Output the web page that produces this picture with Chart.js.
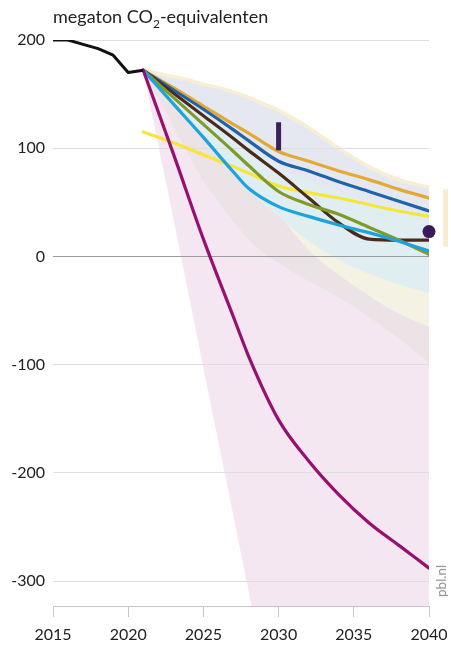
<!DOCTYPE html>
<html>
<head>
<meta charset="utf-8">
<script src="https://cdn.jsdelivr.net/npm/chart.js@4.4.1/dist/chart.umd.min.js"></script>
<style>
  html, body { margin: 0; padding: 0; background: #fff; }
  #wrap { position: relative; width: 451px; height: 647px; overflow: hidden; }
  canvas { position: absolute; left: 0; top: 0; }
  #title { position: absolute; left: 53px; top: 7px; font: 18px Lato, sans-serif; color: #222; line-height: 1; white-space: nowrap; }
  #title sub { font-size: 12px; vertical-align: -5px; line-height: 0; }
  #src { position: absolute; left: 441px; top: 581px; transform: translate(-50%, -50%) rotate(-90deg); font: 13.5px Lato, sans-serif; color: #8e8e8e; white-space: nowrap; }
</style>
</head>
<body>
<div id="wrap">
  <canvas id="c" width="451" height="647"></canvas>
  <div id="title">megaton CO<sub>2</sub>-equivalenten</div>
  <div id="src">pbl.nl</div>
</div>
<script>
// Axis ticks
const xTicks = [2015, 2020, 2025, 2030, 2035, 2040];
const yTicks = [-300, -200, -100, 0, 100, 200];

// Historical emissions
const histYears = [2015, 2016, 2017, 2018, 2019, 2020, 2021];
const histValues = [200, 200, 196, 192, 186, 170, 172];

// Projection paths
const keyYears     = [2021, 2023, 2025, 2027, 2028, 2030, 2032, 2034, 2036, 2038, 2040];
const pathOrange   = [172, 156, 139, 122, 114,   97,   88,   79,   71,   62,   54];
const pathDarkBlue = [172, 154, 136, 117, 107,   88,   79,   69,   60,   51,   42];
const pathYellow   = [115, 105,  94,  83,  77,   65,   59,   54,   48,   42,   37];
const pathBrown    = [172, 151, 130, 109,  98,   77,   54,   31,   16,   15,   15];
const pathOlive    = [172, 147, 122,  97,  84,   60,   48,   39,   27,   15,    2];
const pathCyan     = [172, 141, 110,  78,  63,   46,   37,   29,   22,   14,    5];
const pathMagenta  = [172,  95,  16, -56, -92, -151, -189, -220, -246, -267, -288];

// Uncertainty ranges (upper edge shared, several lower edges)
const bandYears   = [2021, 2022, 2023, 2024, 2025, 2026, 2027, 2028, 2029, 2030, 2032, 2034, 2036, 2038, 2040];
const bandTop     = [172, 169, 166, 163, 159, 156, 152, 147, 141, 135, 119, 100,  83,  71,  64];
const bandSteep   = [172, 103,  35, -34, -103, -172, -240, -309, -378, -400, -400, -400, -400, -400, -400];
const bandMauve   = [172, 146, 120,  94,  70,  50,  32,  16,   3,  -6, -23, -38, -56, -76, -98];
const bandCream   = [172, 160, 148, 136, 124, 110,  95,  80,  60,  40,   6, -17, -36, -53, -65];
const bandAqua    = [172, 155, 140, 123, 108,  93,  76,  60,  48,  37,  14,  -3, -16, -26, -34];
const bandSlate   = [172, 162, 152, 142, 132, 122, 112, 102,  92,  83,  70,  59,  51,  45,  40];

// Single markers
const targetBarYear = 2030;
const targetBarRange = [98, 124];
const targetDot = { year: 2040, value: 23 };
const sideBarYear = 2041.1;
const sideBarRange = [9, 62];

const pts = (xs, ys) => xs.map((x, i) => ({ x: x, y: ys[i] }));

const datasets = [];
function add(ds) { datasets.push(ds); return datasets.length - 1; }

function band(lower, color, order, opts) {
  const lowIdx = add({
    data: pts(bandYears, lower), borderWidth: 0, borderColor: 'rgba(0,0,0,0)',
    pointRadius: 0, fill: false, order: order + 1,
    cubicInterpolationMode: (opts && opts.straight) ? 'default' : 'monotone', tension: 0
  });
  add(Object.assign({
    data: pts(bandYears, bandTop), borderWidth: 0, borderColor: 'rgba(0,0,0,0)',
    pointRadius: 0, backgroundColor: color, fill: lowIdx, order: order,
    cubicInterpolationMode: 'monotone'
  }, (opts && opts.top) || {}));
}

band(bandSteep, '#f4e7f2', 100, { straight: true });
band(bandMauve, '#ece3e7', 90);
band(bandCream, '#f4f2e3', 80);
band(bandAqua,  '#e0edf1', 70);
band(bandSlate, '#e5e8f0', 60, { top: { borderWidth: 3.5, borderColor: '#f9edd4', regrid: true } });

function line(xs, ys, color, order, w) {
  add({
    data: pts(xs, ys), borderColor: color, borderWidth: w || 3.2, pointRadius: 0,
    fill: false, order: order, cubicInterpolationMode: 'monotone',
    borderCapStyle: 'round', borderJoinStyle: 'round'
  });
}

line(keyYears, pathYellow,   '#f5e63c', 9);
line(keyYears, pathOrange,   '#e4a835', 8);
line(keyYears, pathDarkBlue, '#1f63a8', 7);
line(keyYears, pathBrown,    '#4a2a1b', 6);
line(keyYears, pathOlive,    '#7f9a2b', 5);
line(keyYears, pathCyan,     '#1ca3dc', 4);
line(keyYears, pathMagenta,  '#98106f', 3);
add({
  data: pts(histYears, histValues), borderColor: '#111', borderWidth: 3, pointRadius: 0,
  fill: false, order: 2, tension: 0, borderJoinStyle: 'round'
});

// Markers
add({
  data: [{ x: targetBarYear, y: targetBarRange[0] }, { x: targetBarYear, y: targetBarRange[1] }],
  borderColor: '#3d1f5e', borderWidth: 5, borderCapStyle: 'butt', pointRadius: 0, fill: false, order: 1
});
add({
  data: [{ x: sideBarYear, y: sideBarRange[0] }, { x: sideBarYear, y: sideBarRange[1] }],
  borderColor: '#f7ebd0', borderWidth: 5, borderCapStyle: 'butt', pointRadius: 0, fill: false, order: 1, clip: false
});
add({
  data: [{ x: targetDot.year, y: targetDot.value }], showLine: false,
  pointRadius: 6.5, pointBackgroundColor: '#3b1a5c', pointBorderWidth: 0, fill: false, order: 0, clip: false
});

// Grid lines stay visible on top of the shaded ranges
const gridOverBands = {
  id: 'gridOverBands',
  afterDatasetDraw(chart, args) {
    const ds = chart.data.datasets[args.index];
    if (ds && ds.regrid) chart.scales.y.drawGrid(chart.chartArea);
  }
};

const tickFont = { family: 'Lato', size: 16 };

new Chart(document.getElementById('c'), {
  type: 'line',
  data: { datasets: datasets },
  plugins: [gridOverBands],
  options: {
    responsive: false,
    animation: false,
    devicePixelRatio: 1,
    layout: { autoPadding: false, padding: { top: 40, right: 22, left: 0, bottom: 0 } },
    plugins: { legend: { display: false }, tooltip: { enabled: false }, filler: { propagate: false } },
    elements: { point: { radius: 0 } },
    scales: {
      x: {
        type: 'linear', min: 2015, max: 2040,
        afterBuildTicks: s => { s.ticks = xTicks.map(v => ({ value: v })); },
        afterFit: s => { s.height = 41; s.paddingLeft = 0; s.paddingRight = 0; s.paddingTop = 0; s.paddingBottom = 0; },
        grid: { drawOnChartArea: false, drawTicks: true, tickLength: 11, color: '#c6c6c6' },
        border: { display: true, color: '#c6c6c6', width: 1 },
        ticks: { padding: 8, color: '#222', font: tickFont, maxRotation: 0, autoSkip: false, callback: v => String(v) }
      },
      y: {
        type: 'linear', min: -323, max: 200,
        afterBuildTicks: s => { s.ticks = yTicks.map(v => ({ value: v })); },
        afterFit: s => { s.width = 53; s.paddingTop = 0; s.paddingBottom = 0; s.paddingLeft = 0; s.paddingRight = 0; },
        grid: { drawTicks: false, lineWidth: 1, color: c => (c.tick && c.tick.value === 0) ? '#9c9c9c' : '#dedede' },
        border: { display: false },
        ticks: { padding: 8, color: '#222', font: tickFont, callback: v => String(v) }
      }
    }
  }
});
</script>
</body>
</html>
